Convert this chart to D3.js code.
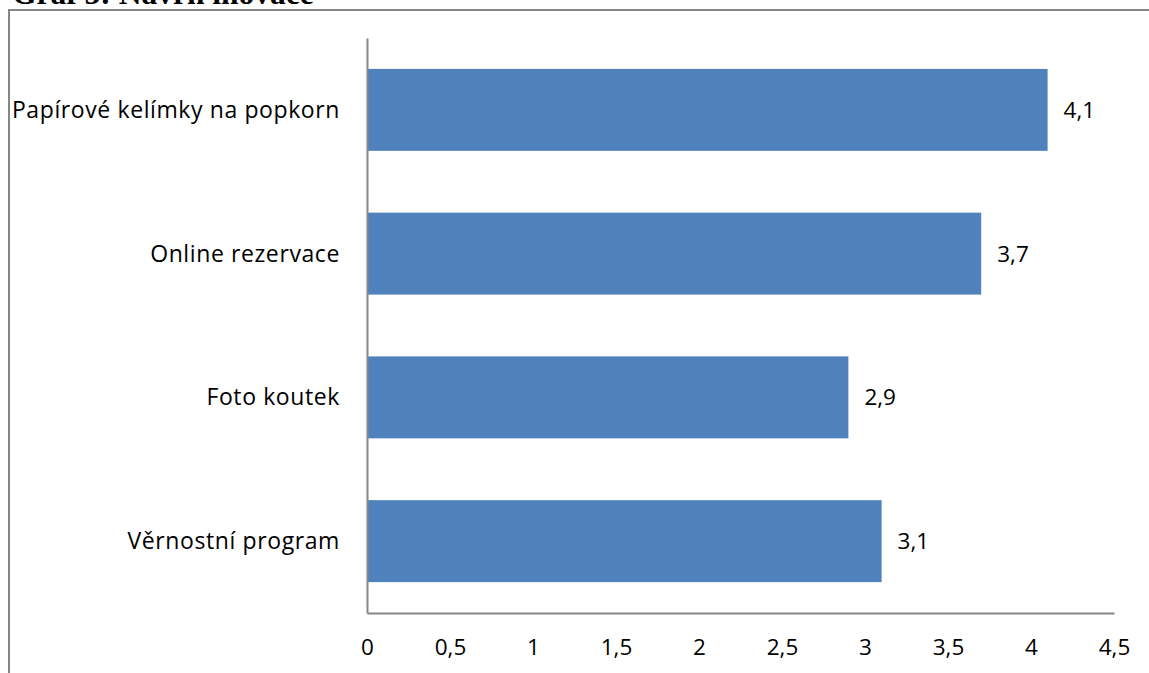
<!DOCTYPE html>
<html><head><meta charset="utf-8">
<script src="https://cdn.jsdelivr.net/npm/d3@7"></script>
<style>body{margin:0;background:#fff}svg{display:block}</style>
</head><body>
<script>
const categories = ["Papírové kelímky na popkorn", "Online rezervace", "Foto koutek", "Věrnostní program"];
const values = [4.1, 3.7, 2.9, 3.1];
const valueLabels = ["4,1", "3,7", "2,9", "3,1"];
const ticks = [0, 0.5, 1, 1.5, 2, 2.5, 3, 3.5, 4, 4.5];
const tickLabels = ["0", "0,5", "1", "1,5", "2", "2,5", "3", "3,5", "4", "4,5"];
const title = "Graf 5: Návrh inovace";

const W = 1149, H = 673;
const svg = d3.select("body").append("svg").attr("width", W).attr("height", H);
const font = "'Open Sans', sans-serif";
const fs = 22.5;

// title (cut off at top)
svg.append("text").attr("x", 12).attr("y", 4)
  .attr("font-family", "'Liberation Serif', serif").attr("font-weight", "bold")
  .attr("font-size", 31.5).attr("fill", "#000").text(title);

// frame
svg.append("path").attr("d", `M9,${H+5} L9,10 L${W+5},10`)
  .attr("fill", "none").attr("stroke", "#868686").attr("stroke-width", 2);

const x = d3.scaleLinear().domain([0, 4.5]).range([367, 1114]);
const y = d3.scaleBand().domain(categories).range([38, 613]).paddingInner(0.43).paddingOuter(0.215);

// bars
svg.selectAll("rect.bar").data(categories).join("rect").attr("class", "bar")
  .attr("x", x(0)).attr("y", d => y(d))
  .attr("width", (d, i) => x(values[i]) - x(0)).attr("height", y.bandwidth())
  .attr("fill", "#4F81BD");

// value labels
svg.selectAll("text.val").data(categories).join("text").attr("class", "val")
  .attr("x", (d, i) => x(values[i]) + 16).attr("y", d => y(d) + y.bandwidth() / 2)
  .attr("dy", "0.35em").attr("font-family", font).attr("font-size", fs).attr("fill", "#000")
  .text((d, i) => valueLabels[i]);

// category labels
svg.selectAll("text.cat").data(categories).join("text").attr("class", "cat")
  .attr("x", 340).attr("y", d => y(d) + y.bandwidth() / 2)
  .attr("dy", "0.35em").attr("text-anchor", "end").attr("font-family", font)
  .attr("font-size", 23).attr("letter-spacing", 0.6).attr("fill", "#000").text(d => d);

// x axis
const xAxis = d3.axisBottom(x).tickValues(ticks).tickSize(0).tickPadding(26)
  .tickFormat((d, i) => tickLabels[i]);
const gx = svg.append("g").attr("transform", "translate(0,613)").call(xAxis);
gx.select(".domain").attr("stroke", "#868686").attr("stroke-width", 2);
gx.selectAll("text").attr("font-family", font).attr("font-size", fs).attr("fill", "#000");

// y axis
const gy = svg.append("g").attr("transform", "translate(367,0)")
  .call(d3.axisLeft(y).tickSize(0).tickFormat(""));
gy.select(".domain").attr("stroke", "#868686").attr("stroke-width", 2);
</script>
</body></html>
